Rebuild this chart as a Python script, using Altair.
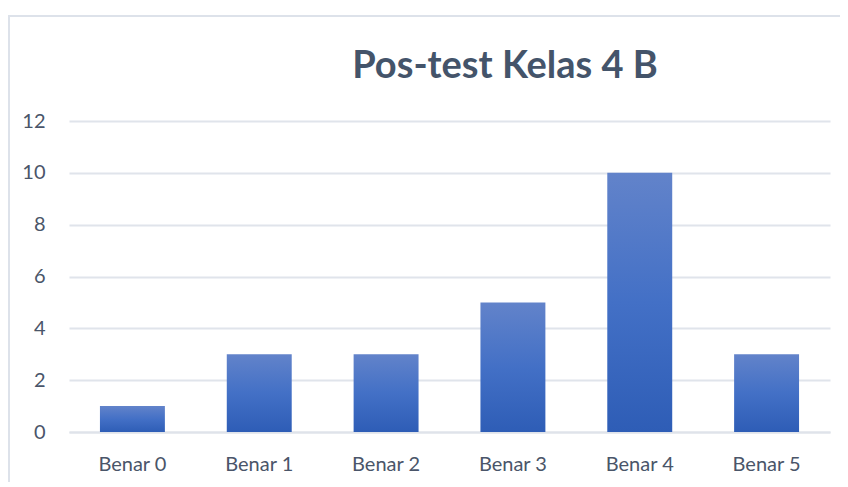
import altair as alt
import pandas as pd

categories = ["Benar 0", "Benar 1", "Benar 2", "Benar 3", "Benar 4", "Benar 5"]
values = [1, 3, 3, 5, 10, 3]
y_ticks = [0, 2, 4, 6, 8, 10, 12]
title_text = "Pos-test Kelas 4 B"

df = pd.DataFrame({"kategori": categories, "jumlah": values})

grad = alt.Gradient(
    gradient="linear",
    x1=0, y1=0, x2=0, y2=1,
    stops=[
        alt.GradientStop(color="#6283CA", offset=0),
        alt.GradientStop(color="#4370C6", offset=0.5),
        alt.GradientStop(color="#2E5DB6", offset=1),
    ],
)

label_color = "#4a5569"

bars = alt.Chart(df).mark_bar(color=grad).encode(
    x=alt.X(
        "kategori:N",
        sort=categories,
        scale=alt.Scale(paddingInner=0.488, paddingOuter=0.244),
        axis=alt.Axis(
            title=None, labelAngle=0, ticks=False, domain=True,
            domainColor="#dfe3ea", domainWidth=2,
            labelFont="Lato", labelFontSize=20, labelColor=label_color,
            labelPadding=22,
        ),
    ),
    y=alt.Y(
        "jumlah:Q",
        scale=alt.Scale(domain=[0, 12]),
        axis=alt.Axis(
            title=None, values=y_ticks, ticks=False, domain=False,
            gridColor="#e0e4eb", gridWidth=2,
            labelFont="Lato", labelFontSize=20, labelColor=label_color,
            labelPadding=24,
        ),
    ),
)

title_df = pd.DataFrame({"t": [title_text]})
title = alt.Chart(title_df).mark_text(
    font="Lato", fontSize=38, fontWeight="bold", color="#44546A",
    align="center", baseline="alphabetic",
).encode(text="t:N", x=alt.value(436), y=alt.value(-43))

border_df = pd.DataFrame({"k": [0]})
top_border = alt.Chart(border_df).mark_rule(color="#dde2ea", strokeWidth=2).encode(
    x=alt.value(-61), x2=alt.value(790), y=alt.value(-105)
)
left_border = alt.Chart(border_df).mark_rule(color="#dde2ea", strokeWidth=2).encode(
    x=alt.value(-60), y=alt.value(-105), y2=alt.value(380)
)

chart = alt.layer(bars, title, top_border, left_border).properties(
    width=761,
    height=311,
    autosize=alt.AutoSizeParams(type="none"),
    padding={"left": 61, "top": 113, "right": 10, "bottom": 50},
).configure_view(stroke=None)

chart.save("out.html", embed_options={"renderer": "svg", "actions": False})
